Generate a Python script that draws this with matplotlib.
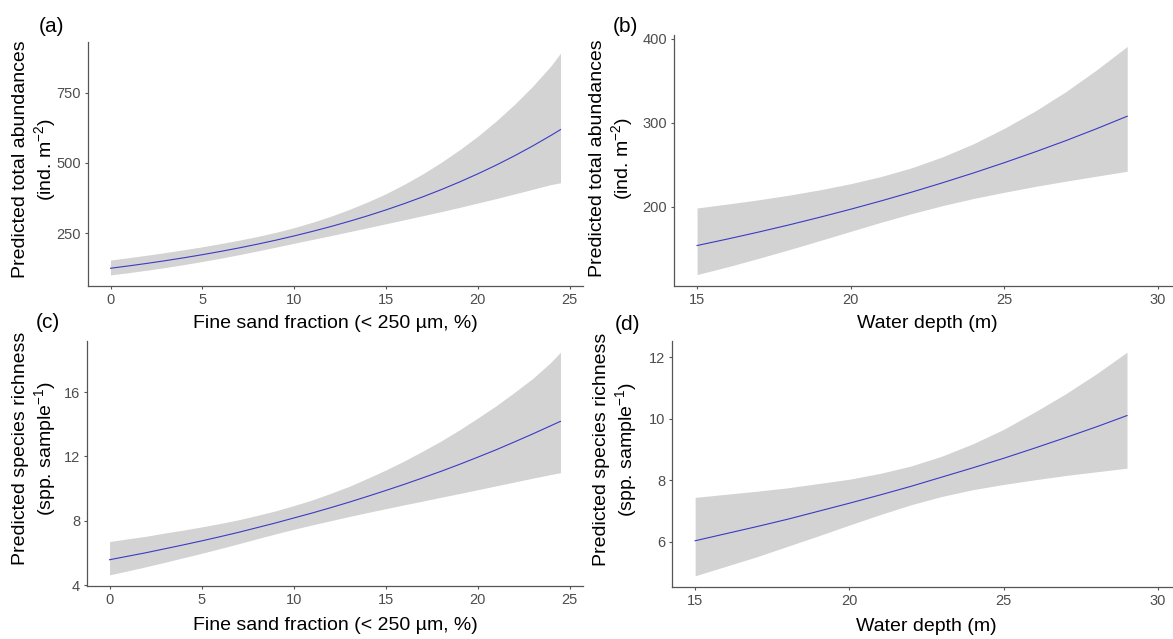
import matplotlib
matplotlib.use("Agg")
import matplotlib.pyplot as plt

plt.rcParams['font.family'] = ['Liberation Sans', 'DejaVu Sans']
plt.rcParams['mathtext.fontset'] = 'custom'
plt.rcParams['mathtext.rm'] = 'Liberation Sans'
plt.rcParams['mathtext.it'] = 'Liberation Sans'

# fine sand fraction (%)
sand_x = [0, 1, 2, 3, 4, 5, 6, 7, 8, 9, 10, 11, 12, 13, 14, 15, 16, 17, 18,
          19, 20, 21, 22, 23, 24, 24.5]
# water depth (m)
depth_x = [15, 16, 17, 18, 19, 20, 21, 22, 23, 24, 25, 26, 27, 28, 29]

# (a) total abundances vs fine sand
abund_sand_fit = [125.0, 133.4, 142.4, 152.0, 162.3, 173.2, 184.9, 197.3, 210.6,
                  224.8, 240.0, 256.2, 273.4, 291.9, 311.5, 332.5, 355.0, 378.9,
                  404.4, 431.7, 460.8, 491.8, 525.0, 560.4, 598.2, 618.0]
abund_sand_lo = [101.3, 109.4, 118.2, 127.7, 138.0, 149.1, 160.7, 173.3, 186.4,
                 200.0, 213.9, 227.5, 241.0, 255.0, 268.9, 283.3, 297.4, 311.8,
                 326.2, 341.3, 357.1, 372.8, 389.3, 406.1, 422.8, 429.0]
abund_sand_hi = [154.2, 162.6, 171.5, 180.9, 190.9, 201.2, 212.7, 224.7, 237.9,
                 252.7, 269.3, 288.6, 310.1, 334.1, 360.8, 390.2, 423.7, 460.5,
                 501.4, 546.1, 594.7, 648.8, 708.0, 773.3, 846.3, 890.2]

# (b) total abundances vs depth
abund_depth_fit = [154.0, 161.8, 170.0, 178.6, 187.7, 197.2, 207.2, 217.7,
                   228.8, 240.4, 252.6, 265.4, 278.8, 293.0, 307.9]
abund_depth_lo = [119.4, 128.7, 138.7, 149.1, 159.9, 170.9, 181.8, 192.1,
                  201.6, 210.0, 217.4, 224.3, 230.6, 236.5, 242.4]
abund_depth_hi = [198.7, 203.4, 208.4, 214.0, 220.3, 227.6, 236.2, 246.7,
                  259.7, 275.2, 293.5, 314.0, 337.1, 363.0, 391.0]

# (c) species richness vs fine sand
rich_sand_fit = [5.58, 5.80, 6.02, 6.26, 6.50, 6.75, 7.01, 7.28, 7.57, 7.86, 8.17,
                 8.48, 8.81, 9.15, 9.51, 9.88, 10.26, 10.66, 11.07, 11.50, 11.95,
                 12.41, 12.90, 13.40, 13.92, 14.18]
rich_sand_lo = [4.64, 4.89, 5.15, 5.42, 5.70, 5.98, 6.27, 6.57, 6.88, 7.18, 7.47,
                7.74, 8.00, 8.26, 8.51, 8.75, 8.99, 9.22, 9.46, 9.69, 9.93,
                10.17, 10.41, 10.65, 10.88, 10.99]
rich_sand_hi = [6.71, 6.88, 7.04, 7.24, 7.42, 7.62, 7.83, 8.06, 8.33, 8.61, 8.94,
                9.29, 9.70, 10.13, 10.63, 11.15, 11.71, 12.32, 12.95, 13.64, 14.38,
                15.14, 15.98, 16.85, 17.87, 18.48]

# (d) species richness vs depth
rich_depth_fit = [6.03, 6.26, 6.49, 6.73, 6.99, 7.25, 7.52, 7.80, 8.10, 8.40,
                  8.71, 9.04, 9.38, 9.73, 10.10]
rich_depth_lo = [4.89, 5.20, 5.51, 5.85, 6.19, 6.54, 6.88, 7.20, 7.47, 7.69,
                 7.86, 8.01, 8.15, 8.27, 8.39]
rich_depth_hi = [7.44, 7.54, 7.64, 7.75, 7.89, 8.03, 8.22, 8.46, 8.78, 9.18,
                 9.65, 10.21, 10.80, 11.45, 12.16]

sand_ticks = [0, 5, 10, 15, 20, 25]
depth_ticks = [15, 20, 25, 30]

xlab_sand = 'Fine sand fraction (< 250 µm, %)'
xlab_depth = 'Water depth (m)'
ylab_abund = 'Predicted total abundances\n(ind. m$^{-2}$)'
ylab_rich = 'Predicted species richness\n(spp. sample$^{-1}$)'

W, H = 1173, 639
fig = plt.figure(figsize=(W / 100, H / 100), dpi=100)


def px_axes(l, r, t, b):
    return fig.add_axes([l / W, (H - b) / H, (r - l) / W, (b - t) / H])


def style(ax, x, fit, lo, hi, xticks, yticks, xlab, ylab, xlc, ylc):
    ax.fill_between(x, lo, hi, color='#d3d3d3', linewidth=0)
    ax.plot(x, fit, color='#3b3bc4', linewidth=0.8)
    ax.set_xticks(xticks)
    ax.set_yticks(yticks)
    for s in ['top', 'right']:
        ax.spines[s].set_visible(False)
    for s in ['left', 'bottom']:
        ax.spines[s].set_color('#555555')
        ax.spines[s].set_linewidth(0.9)
    ax.tick_params(length=2.5, width=0.8, color='#555555', labelcolor='#4d4d4d',
                   labelsize=10.5, pad=2.5)
    ax.set_xlabel(xlab, fontsize=14, va='center')
    ax.set_ylabel(ylab, fontsize=14, va='center', ha='center', multialignment='center')
    ax.xaxis.set_label_coords(0.5, xlc)
    ax.yaxis.set_label_coords(ylc[0], ylc[1])


ax_a = px_axes(88, 583, 42, 286)
style(ax_a, sand_x, abund_sand_fit, abund_sand_lo, abund_sand_hi,
      sand_ticks, [250, 500, 750], xlab_sand, ylab_abund, -0.152, (-0.107, 0.52))

ax_b = px_axes(674, 1181, 35, 286)
style(ax_b, depth_x, abund_depth_fit, abund_depth_lo, abund_depth_hi,
      depth_ticks, [200, 300, 400], xlab_depth, ylab_abund, -0.151, (-0.122, 0.51))
ax_b.set_xlim(14.25, 30.75)

ax_c = px_axes(87, 583, 341, 586)
style(ax_c, sand_x, rich_sand_fit, rich_sand_lo, rich_sand_hi,
      sand_ticks, [4, 8, 12, 16], xlab_sand, ylab_rich, -0.163, (-0.105, 0.56))

ax_d = px_axes(672, 1181, 341, 587)
style(ax_d, depth_x, rich_depth_fit, rich_depth_lo, rich_depth_hi,
      depth_ticks, [6, 8, 10, 12], xlab_depth, ylab_rich, -0.159, (-0.110, 0.56))
ax_d.set_xlim(14.25, 30.75)

# panel tags
for lab, xp, yp in [('(a)', 39, 27), ('(b)', 613, 27), ('(c)', 36, 323), ('(d)', 615, 324)]:
    fig.text(xp / W, 1 - yp / H, lab, fontsize=15, ha='left', va='center')

fig.savefig('out.png', dpi=100)
